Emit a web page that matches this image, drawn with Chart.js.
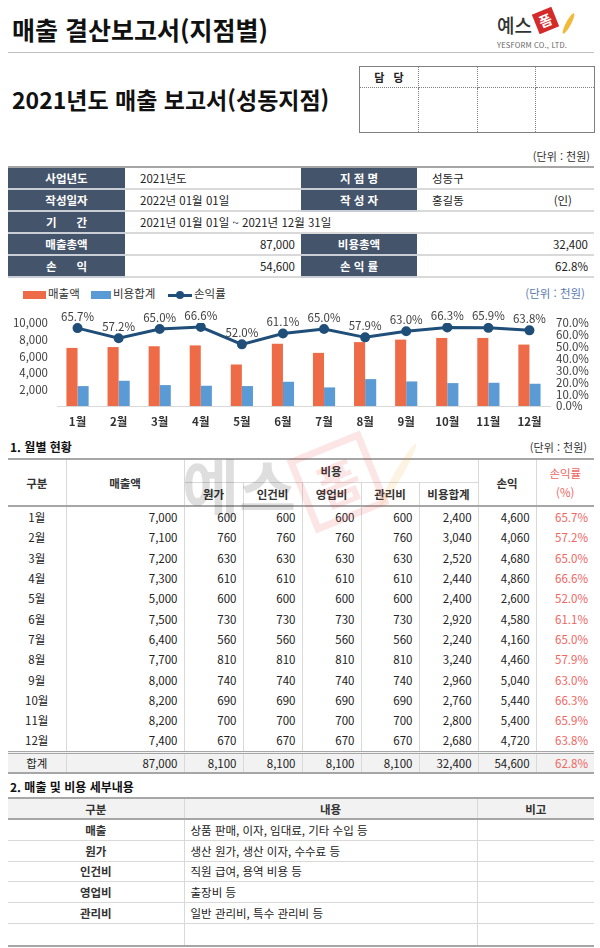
<!DOCTYPE html>
<html lang="ko">
<head>
  <meta charset="UTF-8">
  <title>매출 결산보고서(지점별)</title>
  <style>
    body {
      margin: 0;
      padding: 0;
      background: #fff;
      font-family: 'Noto Sans CJK KR', 'Noto Sans', sans-serif;
      color: #222;
    }

    .page {
      position: relative;
      width: 600px;
      height: 948px;
      overflow: hidden;
    }

    .abs { position: absolute; }

    .title {
      left: 12px; top: 12px;
      font-size: 25px; font-weight: bold; line-height: 34px; color: #111;
    }

    .topline {
      left: 8px; top: 52px; width: 586px; height: 0;
      border-top: 1px solid #bfbfbf;
    }

    .logo-txt { left: 497px; top: 14px; font-size: 19px; font-weight: 500; line-height: 22px; color: #333; }
    .logo-stamp {
      left: 535px; top: 10px; width: 21px; height: 21px;
      background: #d42a2a; color: #fff; transform: rotate(-22deg);
      font-size: 14px; font-weight: bold; line-height: 21px; text-align: center;
    }
    .logo-feather {
      left: 566px; top: 12px; width: 5px; height: 23px;
      background: #f3b93b; border-radius: 50%; transform: rotate(28deg);
    }
    .logo-co { left: 497px; top: 40px; font-size: 7.5px; line-height: 10px; color: #666; letter-spacing: 0.2px; }

    .subtitle {
      left: 12px; top: 83px;
      font-size: 23px; font-weight: bold; line-height: 32px; color: #111;
    }

    .approval {
      left: 359px; top: 66px;
      border-collapse: collapse; table-layout: fixed;
    }
    .approval td {
      border: 1px dotted #808080; padding: 0;
      font-size: 11px; font-weight: bold; text-align: center;
    }
    .approval { border: 1px solid #808080; }

    .unit { font-size: 11px; line-height: 14px; color: #333; }

    table.info {
      left: 8px; top: 166px; width: 586px;
      border-collapse: collapse; table-layout: fixed;
      border-top: 2px solid #a6a6a6;
    }
    table.info td {
      height: 20px; padding: 0 6px;
      border-bottom: 2px solid #d9d9d9;
      font-size: 11.5px; line-height: 14px; white-space: pre;
    }
    table.info td.h {
      background: #44546a; color: #fff; text-align: center; font-weight: bold;
      border-bottom: 2px solid #c9ced6;
    }
    table.info td.l { padding-left: 15px; }
    table.info td.r { text-align: right; }

    .legend { top: 286px; font-size: 11.5px; line-height: 14px; color: #333; }
    .lg-box { display: inline-block; width: 23px; height: 8px; vertical-align: middle; margin-right: 2px; }

    .sec { left: 10px; font-size: 12px; font-weight: bold; line-height: 16px; color: #111; }

    table.grid {
      left: 8px; width: 586px;
      border-collapse: collapse; table-layout: fixed;
    }
    table.grid td, table.grid th {
      padding: 0 6px; font-size: 11.5px; line-height: 14px; color: #222;
      border-left: 1px solid #d9d9d9; border-right: 1px solid #d9d9d9;
    }
    table.grid tr > :first-child { border-left: none; }
    table.grid tr > :last-child { border-right: none; }
    table.grid th { font-weight: bold; color: #333; }

    .t1 { top: 458px; border-top: 2px solid #a6a6a6; }
    .t1 th { border-bottom: 1px solid #d9d9d9; height: 22px; }
    .t1 tr.hdr2 th { border-bottom: 2px solid #a6a6a6; }
    .t1 th.rs { border-bottom: 2px solid #a6a6a6; }
    .t1 th.rate { color: #f0665f; font-weight: normal; line-height: 19px; }
    .t1 td { height: 20.3px; text-align: right; }
    .t1 td.c { text-align: center; }
    .t1 .red { color: #f0665f; }
    .t1 tr.sum td { background: #f2f2f2; border-top: 3px double #a6a6a6; border-bottom: 2px solid #a6a6a6; height: 18px; }

    .t2 { top: 797px; border-top: 2px solid #a6a6a6; border-bottom: 2px solid #a6a6a6; }
    .t2 th { background: #f2f2f2; height: 19px; border-bottom: 2px solid #a6a6a6; }
    .t2 td { height: 19.8px; border-bottom: 1px solid #d9d9d9; }
    .t2 td.k { text-align: center; font-weight: bold; color: #333; }
    .t2 tr:last-child td { height: 21px; border-bottom: none; }
  </style>
</head>
<body>
<div class="page">
  <div class="abs title">매출 결산보고서(지점별)</div>
  <div class="abs logo-txt">예스</div>
  <div class="abs logo-stamp">폼</div>
  <div class="abs logo-feather"></div>
  <div class="abs logo-co">YESFORM CO., LTD.</div>
  <div class="abs topline"></div>

  <div class="abs subtitle">2021년도 매출 보고서(성동지점)</div>

  <table class="abs approval">
    <colgroup><col style="width:59px"><col style="width:59px"><col style="width:58px"><col style="width:59px"></colgroup>
    <tr style="height:21px"><td>담&nbsp;&nbsp;&nbsp;당</td><td></td><td></td><td></td></tr>
    <tr style="height:45px"><td></td><td></td><td></td><td></td></tr>
  </table>

  <div class="abs unit" style="right:10px; top:149px;">(단위 : 천원)</div>

  <table class="abs info">
    <colgroup><col style="width:117px"><col style="width:176px"><col style="width:116px"><col style="width:177px"></colgroup>
    <tr><td class="h">사업년도</td><td class="l">2021년도</td><td class="h">지 점 명</td><td class="l">성동구</td></tr>
    <tr><td class="h">작성일자</td><td class="l">2022년 01월 01일</td><td class="h">작 성 자</td><td class="l">홍길동<span style="float:right; margin-right:16px">(인)</span></td></tr>
    <tr><td class="h">기<span style="display:inline-block;width:20px"></span>간</td><td class="l" colspan="3">2021년 01월 01일 ~ 2021년 12월 31일</td></tr>
    <tr><td class="h">매출총액</td><td class="r" id="tot-sales"></td><td class="h">비용총액</td><td class="r" id="tot-cost"></td></tr>
    <tr><td class="h">손<span style="display:inline-block;width:20px"></span>익</td><td class="r" id="tot-profit"></td><td class="h">손 익 률</td><td class="r" id="tot-rate"></td></tr>
  </table>

  <!-- 차트 범례 -->
  <div class="abs legend" style="left:23px;"><span class="lg-box" style="background:#ed6b47"></span>매출액</div>
  <div class="abs legend" style="left:91px;"><span class="lg-box" style="background:#5b9bd5;width:20px"></span>비용합계</div>
  <div class="abs legend" style="left:168px;">
    <span style="display:inline-block;position:relative;width:24px;height:8px;vertical-align:middle;margin-right:2px">
      <span style="position:absolute;left:0;top:3px;width:24px;height:3px;background:#1f4e79"></span>
      <span style="position:absolute;left:8px;top:0;width:8px;height:8px;border-radius:50%;background:#1f4e79"></span>
    </span>손익률</div>
  <div class="abs legend" style="right:15px; color:#5b7bb0;">(단위 : 천원)</div>

  <canvas class="abs" id="chart" width="600" height="135" style="left:0; top:300px; width:600px; height:135px;"></canvas>

  <div class="abs sec" style="top:439px;">1. 월별 현황</div>
  <div class="abs unit" style="right:13px; top:440px;">(단위 : 천원)</div>

  <table class="abs grid t1">
    <colgroup>
      <col style="width:58px"><col style="width:118px"><col style="width:59px"><col style="width:59px"><col style="width:59px">
      <col style="width:58px"><col style="width:59px"><col style="width:58px"><col style="width:58px">
    </colgroup>
    <thead>
      <tr>
        <th rowspan="2" class="rs">구분</th>
        <th rowspan="2" class="rs">매출액</th>
        <th colspan="5">비용</th>
        <th rowspan="2" class="rs">손익</th>
        <th rowspan="2" class="rs rate">손익률<br>(%)</th>
      </tr>
      <tr class="hdr2"><th>원가</th><th>인건비</th><th>영업비</th><th>관리비</th><th>비용합계</th></tr>
    </thead>
    <tbody id="monthly"></tbody>
  </table>

  <div class="abs sec" style="top:779px;">2. 매출 및 비용 세부내용</div>

  <table class="abs grid t2">
    <colgroup><col style="width:176px"><col style="width:293px"><col style="width:117px"></colgroup>
    <tr><th>구분</th><th>내용</th><th>비고</th></tr>
    <tbody id="details"></tbody>
  </table>

  <!-- 워터마크 로고 (그림) -->
  <canvas class="abs" id="wm" width="260" height="110" style="left:170px; top:430px; width:260px; height:110px; pointer-events:none;"></canvas>
</div>

<script src="https://cdn.jsdelivr.net/npm/chart.js"></script>
<script>
  // 월별 데이터 (단위: 천원)
  const months = ['1월', '2월', '3월', '4월', '5월', '6월', '7월', '8월', '9월', '10월', '11월', '12월'];
  const sales = [7000, 7100, 7200, 7300, 5000, 7500, 6400, 7700, 8000, 8200, 8200, 7400];
  const costOfGoods = [600, 760, 630, 610, 600, 730, 560, 810, 740, 690, 700, 670];
  const laborCost = [600, 760, 630, 610, 600, 730, 560, 810, 740, 690, 700, 670];
  const salesCost = [600, 760, 630, 610, 600, 730, 560, 810, 740, 690, 700, 670];
  const adminCost = [600, 760, 630, 610, 600, 730, 560, 810, 740, 690, 700, 670];
  const costTotal = [2400, 3040, 2520, 2440, 2400, 2920, 2240, 3240, 2960, 2760, 2800, 2680];
  const profit = [4600, 4060, 4680, 4860, 2600, 4580, 4160, 4460, 5040, 5440, 5400, 4720];
  const profitRate = [65.7, 57.2, 65.0, 66.6, 52.0, 61.1, 65.0, 57.9, 63.0, 66.3, 65.9, 63.8];

  // 축 눈금
  const leftMax = 10000, leftStep = 2000;
  const rightMax = 70, rightStep = 10;

  // 세부내용
  const detailItems = ['매출', '원가', '인건비', '영업비', '관리비', ''];
  const detailTexts = ['상품 판매, 이자, 임대료, 기타 수입 등', '생산 원가, 생산 이자, 수수료 등', '직원 급여, 용역 비용 등', '출장비 등', '일반 관리비, 특수 관리비 등', ''];

  const fmt = n => n.toLocaleString('en-US');
  const sum = arr => arr.reduce((a, b) => a + b, 0);

  // 요약 표
  const totSales = sum(sales), totCost = sum(costTotal), totProfit = sum(profit);
  const totRate = (totProfit / totSales * 100).toFixed(1) + '%';
  document.getElementById('tot-sales').textContent = fmt(totSales);
  document.getElementById('tot-cost').textContent = fmt(totCost);
  document.getElementById('tot-profit').textContent = fmt(totProfit);
  document.getElementById('tot-rate').textContent = totRate;

  // 월별 현황 표
  let rows = '';
  months.forEach((m, i) => {
    rows += `<tr><td class="c">${m}</td><td>${fmt(sales[i])}</td><td>${fmt(costOfGoods[i])}</td><td>${fmt(laborCost[i])}</td>` +
      `<td>${fmt(salesCost[i])}</td><td>${fmt(adminCost[i])}</td><td>${fmt(costTotal[i])}</td><td>${fmt(profit[i])}</td>` +
      `<td class="red">${profitRate[i].toFixed(1)}%</td></tr>`;
  });
  rows += `<tr class="sum"><td class="c">합계</td><td>${fmt(totSales)}</td><td>${fmt(sum(costOfGoods))}</td><td>${fmt(sum(laborCost))}</td>` +
    `<td>${fmt(sum(salesCost))}</td><td>${fmt(sum(adminCost))}</td><td>${fmt(totCost)}</td><td>${fmt(totProfit)}</td>` +
    `<td class="red">${totRate}</td></tr>`;
  document.getElementById('monthly').innerHTML = rows;

  // 세부내용 표
  document.getElementById('details').innerHTML = detailItems.map((k, i) =>
    `<tr><td class="k">${k}</td><td>${detailTexts[i]}</td><td></td></tr>`).join('');

  // 워터마크
  (function () {
    const w = document.getElementById('wm').getContext('2d');
    w.globalAlpha = 0.13;
    w.fillStyle = '#000';
    w.font = 'bold 62px "Noto Sans CJK KR"';
    w.textBaseline = 'middle';
    w.fillText('예스', 12, 58);
    w.save();
    w.translate(168, 52);
    w.rotate(-22 * Math.PI / 180);
    w.strokeStyle = '#e53935';
    w.lineWidth = 7;
    w.strokeRect(-36, -36, 72, 72);
    w.fillStyle = '#e53935';
    w.font = 'bold 48px "Noto Sans CJK KR"';
    w.textAlign = 'center';
    w.fillText('폼', 0, 2);
    w.restore();
    w.save();
    w.translate(228, 45);
    w.rotate(30 * Math.PI / 180);
    w.fillStyle = '#f0a020';
    w.beginPath();
    w.ellipse(0, 0, 4, 36, 0, 0, Math.PI * 2);
    w.fill();
    w.restore();
  })();

  // 손익률 라벨
  const pointLabels = {
    id: 'pointLabels',
    afterDatasetsDraw(chart) {
      const meta = chart.getDatasetMeta(0);
      const c = chart.ctx;
      c.save();
      c.font = '11.5px "Noto Sans CJK KR"';
      c.fillStyle = '#404040';
      c.textAlign = 'center';
      c.textBaseline = 'bottom';
      meta.data.forEach((pt, i) => c.fillText(profitRate[i].toFixed(1) + '%', pt.x, pt.y - 6));
      c.restore();
    }
  };

  const tickFont = { family: 'Noto Sans CJK KR', size: 11.5, lineHeight: 1 };

  new Chart(document.getElementById('chart').getContext('2d'), {
    data: {
      labels: months,
      datasets: [
        {
          type: 'line', label: '손익률', data: profitRate, yAxisID: 'y1', order: 0,
          borderColor: '#1f4e79', backgroundColor: '#1f4e79', borderWidth: 3,
          pointRadius: 3.5, pointBackgroundColor: '#1f4e79', tension: 0
        },
        {
          type: 'bar', label: '매출액', data: sales, yAxisID: 'y', order: 1,
          backgroundColor: '#ed6b47', barPercentage: 1, categoryPercentage: 0.54
        },
        {
          type: 'bar', label: '비용합계', data: costTotal, yAxisID: 'y', order: 1,
          backgroundColor: '#5b9bd5', barPercentage: 1, categoryPercentage: 0.54
        }
      ]
    },
    options: {
      responsive: false,
      animation: false,
      layout: { padding: { top: 23 } },
      plugins: { legend: { display: false }, tooltip: { enabled: false } },
      scales: {
        x: {
          grid: { display: false, drawTicks: false },
          border: { color: '#d9d9d9' },
          ticks: { color: '#333', padding: 9, font: { family: 'Noto Sans CJK KR', size: 11.5, weight: 'bold' } },
          afterFit(s) { s.height = 29; }
        },
        y: {
          position: 'left', min: 0, max: leftMax,
          grid: { display: false, drawTicks: false },
          border: { display: false },
          ticks: { stepSize: leftStep, autoSkip: false, padding: 9, color: '#404040', font: tickFont,
            callback: v => v === 0 ? '' : fmt(v) },
          afterFit(s) { s.width = 57; }
        },
        y1: {
          position: 'right', min: 0, max: rightMax,
          grid: { display: false, drawTicks: false },
          border: { display: false },
          ticks: { stepSize: rightStep, autoSkip: false, padding: 6, color: '#404040', font: tickFont,
            callback: v => v.toFixed(1) + '%' },
          afterFit(s) { s.width = 50; }
        }
      }
    },
    plugins: [pointLabels]
  });
</script>
</body>
</html>
